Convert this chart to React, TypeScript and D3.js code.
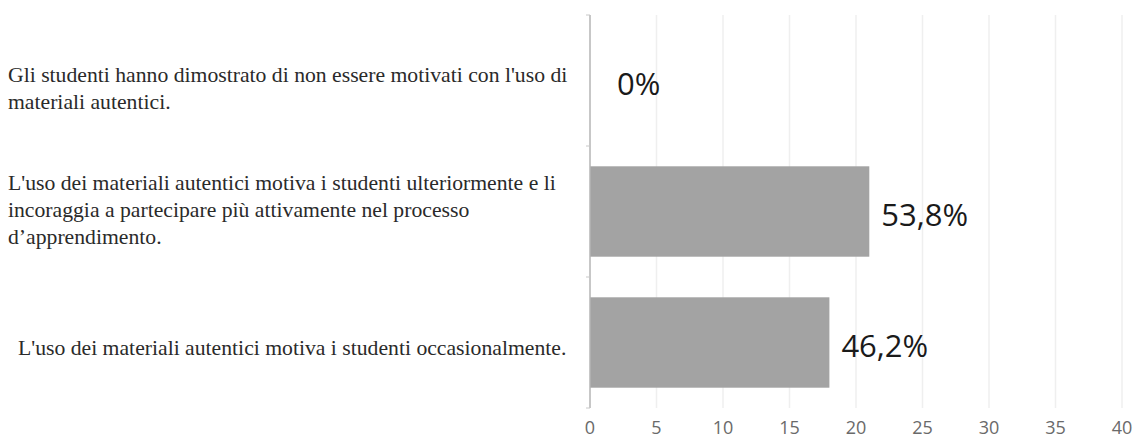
import React from "react";
import * as d3 from "d3";

const categories: string[][] = [
  ["Gli studenti hanno dimostrato di non essere motivati con l'uso di", "materiali autentici."],
  ["L'uso dei materiali autentici motiva i studenti ulteriormente e li", "incoraggia a partecipare più attivamente nel processo", "d\u2019apprendimento."],
  ["L'uso dei materiali autentici motiva i studenti occasionalmente."],
];
const values: number[] = [0, 21, 18];
const percentLabels: string[] = ["0%", "53,8%", "46,2%"];
const xTicks: number[] = [0, 5, 10, 15, 20, 25, 30, 35, 40];

// layout-only nudges for the wrapped category labels (not data)
const labelNudge: number[] = [15, 5, 12];
const labelIndent: number[] = [8, 8, 18];

const W = 1136;
const H = 438;
const left = 590;
const right = 1122;
const top = 15;
const bottom = 408;

export default function App() {
  const x = d3.scaleLinear().domain([0, 40]).range([left, right]);
  const y = d3
    .scaleBand<number>()
    .domain(values.map((_, i) => i))
    .range([top, bottom])
    .paddingInner(0.31)
    .paddingOuter(0.155);
  const bandStep = (bottom - top) / values.length;
  const lineH = 27;

  return (
    <svg
      width={W}
      height={H}
      style={{ position: "absolute", left: 0, top: 0, background: "#fff" }}
    >
      {xTicks.slice(1).map((t) => (
        <line key={t} x1={x(t)} x2={x(t)} y1={top} y2={bottom} stroke="#efefef" strokeWidth={1.5} />
      ))}
      {values.map((v, i) => (
        <rect
          key={i}
          x={x(0)}
          y={y(i)!}
          width={x(v) - x(0)}
          height={y.bandwidth()}
          fill="#a3a3a3"
        />
      ))}
      <line x1={x(0)} x2={x(0)} y1={top} y2={bottom} stroke="#b5b5b5" strokeWidth={1.5} />
      {d3.range(values.length + 1).map((i) => (
        <line
          key={i}
          x1={x(0) - 4}
          x2={x(0)}
          y1={top + i * bandStep}
          y2={top + i * bandStep}
          stroke="#c8c8c8"
          strokeWidth={1}
        />
      ))}
      {xTicks.map((t) => (
        <text
          key={t}
          x={x(t)}
          y={434}
          textAnchor="middle"
          fontFamily="'Open Sans', sans-serif"
          fontSize={18}
          fill="#6a6a6a"
        >
          {t}
        </text>
      ))}
      {values.map((v, i) => (
        <text
          key={i}
          x={Math.max(x(v) + 12, x(0) + 27)}
          y={y(i)! + y.bandwidth() / 2 + 14}
          fontFamily="'Open Sans', sans-serif"
          fontSize={31}
          fill="#1a1a1a"
        >
          {percentLabels[i]}
        </text>
      ))}
      {categories.map((lines, i) => {
        const cy = y(i)! + y.bandwidth() / 2;
        const startY = cy - ((lines.length - 1) * lineH) / 2 + labelNudge[i];
        return (
          <text
            key={i}
            fontFamily="'Liberation Serif', 'Times New Roman', serif"
            fontSize={21.7}
            fill="#2a2a2a"
          >
            {lines.map((l, j) => (
              <tspan key={j} x={labelIndent[i]} y={startY + j * lineH}>
                {l}
              </tspan>
            ))}
          </text>
        );
      })}
    </svg>
  );
}
